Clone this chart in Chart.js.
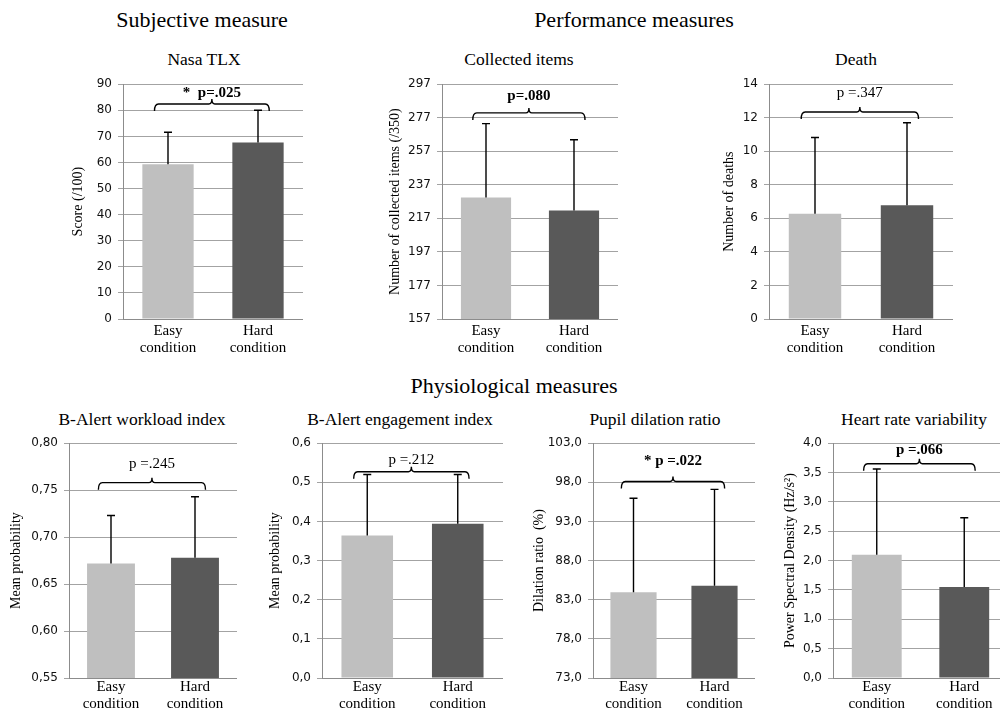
<!DOCTYPE html>
<html>
<head>
<meta charset="utf-8">
<script src="https://cdn.jsdelivr.net/npm/chart.js@4/dist/chart.umd.min.js"></script>
<style>
html,body{margin:0;padding:0;width:1000px;height:712px;overflow:hidden;background:#fff;}
.t{position:absolute;transform:translate(-50%,-50%);font-family:"Liberation Serif","Times New Roman",serif;color:#000;white-space:nowrap;line-height:1;}
.h{font-size:22px;}
.ct{font-size:17.5px;}
canvas{position:absolute;}
</style>
</head>
<body>
<div class="t h" style="left:202px;top:20px;">Subjective measure</div>
<div class="t h" style="left:634px;top:20px;">Performance measures</div>
<div class="t h" style="left:514px;top:386px;">Physiological measures</div>
<script>
// ---- data ----
const categories = [['Easy', 'condition'], ['Hard', 'condition']];

const nasaMean = [59.3, 67.7];
const nasaSD = [12.3, 12.3];
const nasaTicks = ['0', '10', '20', '30', '40', '50', '60', '70', '80', '90'];

const collectedMean = [229.4, 221.7];
const collectedSD = [44.1, 42.2];
const collectedTicks = ['157', '177', '197', '217', '237', '257', '277', '297'];

const deathMean = [6.28, 6.78];
const deathSD = [4.54, 4.92];
const deathTicks = ['0', '2', '4', '6', '8', '10', '12', '14'];

const workloadMean = [0.672, 0.678];
const workloadSD = [0.051, 0.065];
const workloadTicks = ['0,55', '0,60', '0,65', '0,70', '0,75', '0,80'];

const engagementMean = [0.364, 0.394];
const engagementSD = [0.156, 0.126];
const engagementTicks = ['0,0', '0,1', '0,2', '0,3', '0,4', '0,5', '0,6'];

const pupilMean = [83.96, 84.8];
const pupilSD = [12.0, 12.3];
const pupilTicks = ['73,0', '78,0', '83,0', '88,0', '93,0', '98,0', '103,0'];

const hrvMean = [2.10, 1.55];
const hrvSD = [1.46, 1.18];
const hrvTicks = ['0,0', '0,5', '1,0', '1,5', '2,0', '2,5', '3,0', '3,5', '4,0'];

// significance brackets: bracket level and text level in axis units
const pValues = ['*  p=.025', 'p=.080', 'p =.347', 'p =.245', 'p =.212', '* p =.022', 'p =.066'];
const pBold = [true, true, false, false, false, true, true];
const bracketLevels = [82.4, 279.9, 12.34, 0.758, 0.527, 98.1, 3.65];
const pTextLevels = [86.6, 289.9, 13.47, 0.778, 0.556, 100.7, 3.876];

// ---- drawing ----
const BAR_COLORS = ['#bfbfbf', '#595959'];
const SERIF = '"Liberation Serif", "Times New Roman", serif';
const SANS = '"DejaVu Sans", Verdana, sans-serif';
const toNum = s => parseFloat(s.replace(',', '.'));

const annotPlugin = {
  id: 'annot',
  afterDatasetsDraw(chart, args, o) {
    const ctx = chart.ctx;
    const meta = chart.getDatasetMeta(0);
    const ys = chart.scales.y;
    const cw = chart.scales.x.width / 2;
    ctx.save();
    ctx.strokeStyle = '#000';
    ctx.lineWidth = 1.4;
    // error bars (upper only)
    meta.data.forEach((bar, i) => {
      const y0 = ys.getPixelForValue(o.mean[i]);
      const y1 = ys.getPixelForValue(o.mean[i] + o.sd[i]);
      ctx.beginPath();
      ctx.moveTo(bar.x, y0);
      ctx.lineTo(bar.x, y1);
      ctx.moveTo(bar.x - 4, y1);
      ctx.lineTo(bar.x + 4, y1);
      ctx.stroke();
    });
    // bracket
    const x0 = meta.data[0].x - 0.15 * cw;
    const x1 = meta.data[1].x + 0.125 * cw;
    const xm = (x0 + x1) / 2;
    const yb = ys.getPixelForValue(o.level);
    ctx.beginPath();
    ctx.moveTo(x0, yb + 7);
    ctx.quadraticCurveTo(x0, yb, x0 + 4, yb);
    ctx.lineTo(xm - 3, yb);
    ctx.quadraticCurveTo(xm, yb, xm, yb - 5);
    ctx.quadraticCurveTo(xm, yb, xm + 3, yb);
    ctx.lineTo(x1 - 4, yb);
    ctx.quadraticCurveTo(x1, yb, x1, yb + 7);
    ctx.stroke();
    ctx.fillStyle = '#000';
    ctx.font = (o.bold ? 'bold ' : '') + '15px ' + SERIF;
    ctx.textAlign = 'center';
    ctx.textBaseline = 'middle';
    ctx.fillText(o.text, xm, ys.getPixelForValue(o.textLevel));
    ctx.restore();
  }
};

function makeChart(spec, idx) {
  const c = document.createElement('canvas');
  c.width = spec.w; c.height = spec.h;
  c.style.left = spec.left + 'px'; c.style.top = spec.top + 'px';
  c.style.width = spec.w + 'px'; c.style.height = spec.h + 'px';
  document.body.appendChild(c);

  const tt = document.createElement('div');
  tt.className = 't ct';
  tt.style.left = spec.titleX + 'px';
  tt.style.top = spec.titleY + 'px';
  tt.textContent = spec.title;
  document.body.appendChild(tt);

  const tickVals = spec.ticks.map(toNum);
  new Chart(c, {
    type: 'bar',
    data: {
      labels: categories,
      datasets: [{
        data: spec.mean,
        backgroundColor: BAR_COLORS,
        borderWidth: 0,
        barPercentage: 0.57,
        categoryPercentage: 1
      }]
    },
    options: {
      responsive: false,
      animation: false,
      devicePixelRatio: 1,
      layout: { padding: { top: 10, right: 0, bottom: 0, left: 0 } },
      plugins: {
        legend: { display: false },
        tooltip: { enabled: false },
        annot: {
          mean: spec.mean, sd: spec.sd,
          level: bracketLevels[idx], textLevel: pTextLevels[idx],
          text: pValues[idx], bold: pBold[idx]
        }
      },
      scales: {
        x: {
          type: 'category',
          offset: true,
          grid: { display: false, drawTicks: false },
          border: { display: true, color: '#8c8c8c', width: 1 },
          ticks: {
            autoSkip: false, maxRotation: 0, padding: spec.xpad,
            color: '#000',
            font: { family: SERIF, size: 15, lineHeight: 1.1 }
          },
          afterFit: s => { s.height = spec.xh; }
        },
        y: {
          min: tickVals[0],
          max: tickVals[tickVals.length - 1],
          afterBuildTicks: s => { s.ticks = tickVals.map(v => ({ value: v })); },
          grid: { color: '#a3a3a3', lineWidth: 1, tickLength: 5, drawTicks: true },
          border: { display: true, color: '#8c8c8c', width: 1 },
          ticks: {
            padding: 6, color: '#111',
            font: { family: SANS, size: 12 },
            callback: (v, i) => spec.ticks[i]
          },
          title: {
            display: true, text: spec.yTitle, padding: 0, color: '#000',
            font: { family: SERIF, size: 14, lineHeight: 1.2 }
          },
          afterFit: s => { s.width = spec.yw; }
        }
      }
    },
    plugins: [annotPlugin]
  });
}

const specs = [
  { title: 'Nasa TLX', titleX: 204, titleY: 60, yTitle: 'Score (/100)', mean: nasaMean, sd: nasaSD, ticks: nasaTicks,
    left: 70, top: 71, w: 233, h: 293, yw: 53, xh: 45, xpad: 4 },
  { title: 'Collected items', titleX: 519, titleY: 60, yTitle: 'Number of collected items (/350)', mean: collectedMean, sd: collectedSD, ticks: collectedTicks,
    left: 387, top: 71, w: 231, h: 293, yw: 55, xh: 45, xpad: 4 },
  { title: 'Death', titleX: 856, titleY: 60, yTitle: 'Number of deaths', mean: deathMean, sd: deathSD, ticks: deathTicks,
    left: 721, top: 71, w: 232, h: 293, yw: 48, xh: 45, xpad: 4 },
  { title: 'B-Alert workload index', titleX: 142, titleY: 420, yTitle: 'Mean probability', mean: workloadMean, sd: workloadSD, ticks: workloadTicks,
    left: 8, top: 430, w: 229, h: 282, yw: 61, xh: 34, xpad: 1 },
  { title: 'B-Alert engagement index', titleX: 400, titleY: 420, yTitle: 'Mean probability', mean: engagementMean, sd: engagementSD, ticks: engagementTicks,
    left: 267, top: 430, w: 236, h: 282, yw: 55, xh: 34, xpad: 1 },
  { title: 'Pupil dilation ratio', titleX: 655, titleY: 420, yTitle: 'Dilation ratio  (%)', mean: pupilMean, sd: pupilSD, ticks: pupilTicks,
    left: 531, top: 430, w: 224, h: 282, yw: 62, xh: 34, xpad: 1 },
  { title: 'Heart rate variability', titleX: 914, titleY: 420, yTitle: 'Power Spectral Density (Hz/s\u00B2)', mean: hrvMean, sd: hrvSD, ticks: hrvTicks,
    left: 782, top: 430, w: 226, h: 282, yw: 51, xh: 34, xpad: 1 }
];

specs.forEach(makeChart);
</script>
</body>
</html>
